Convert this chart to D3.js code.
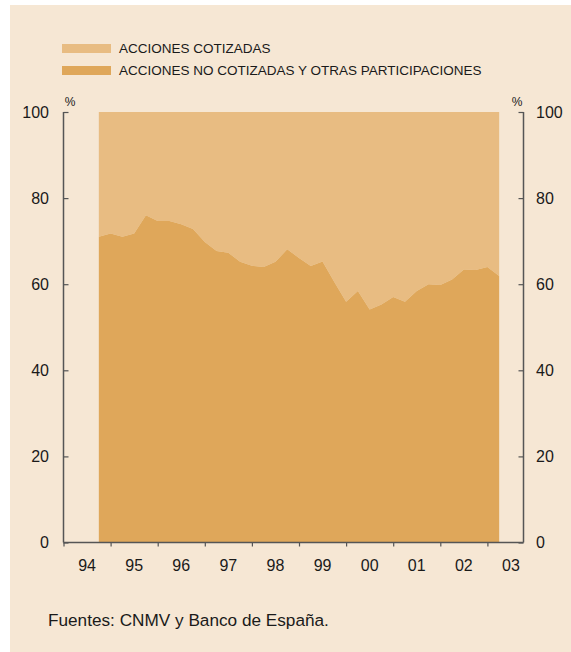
<!DOCTYPE html>
<html>
<head>
<meta charset="utf-8">
<script src="https://cdn.jsdelivr.net/npm/d3@7"></script>
<style>
  html, body { margin: 0; padding: 0; background: #ffffff; }
  svg { display: block; }
  text { font-family: "Liberation Sans", Arial, Helvetica, sans-serif; fill: #1a1a1a; }
</style>
</head>
<body>
<svg id="chart" width="571" height="652"></svg>
<script>
// ---- data ----
const seriesNames = ["ACCIONES COTIZADAS", "ACCIONES NO COTIZADAS Y OTRAS PARTICIPACIONES"];
// quarterly observations, 1994 Q4 .. 2003 Q2 (positioned at quarter boundaries)
const periods = [
  1994.75,
  1995.00, 1995.25, 1995.50, 1995.75,
  1996.00, 1996.25, 1996.50, 1996.75,
  1997.00, 1997.25, 1997.50, 1997.75,
  1998.00, 1998.25, 1998.50, 1998.75,
  1999.00, 1999.25, 1999.50, 1999.75,
  2000.00, 2000.25, 2000.50, 2000.75,
  2001.00, 2001.25, 2001.50, 2001.75,
  2002.00, 2002.25, 2002.50, 2002.75,
  2003.00, 2003.25
];
// share of unlisted shares and other equity (%)
const noCotizadas = [
  71.0,
  71.8, 71.0, 71.8, 76.0,
  74.7, 74.7, 73.9, 72.8,
  69.8, 67.7, 67.3, 65.2,
  64.3, 64.0, 65.2, 68.1,
  66.1, 64.2, 65.3, 60.5,
  55.9, 58.4, 54.1, 55.3,
  57.0, 55.9, 58.4, 60.0,
  59.8, 61.1, 63.4, 63.3,
  64.0, 61.9
];
// listed shares fill the remainder up to 100 %
const totalPct = [
  100, 100, 100, 100, 100, 100, 100, 100, 100, 100,
  100, 100, 100, 100, 100, 100, 100, 100, 100, 100,
  100, 100, 100, 100, 100, 100, 100, 100, 100, 100,
  100, 100, 100, 100, 100
];
const yearTicks = [1994, 1995, 1996, 1997, 1998, 1999, 2000, 2001, 2002, 2003];
const yearLabels = ["94", "95", "96", "97", "98", "99", "00", "01", "02", "03"];
const yTicks = [0, 20, 40, 60, 80, 100];
const sourceNote = "Fuentes: CNMV y Banco de España.";

// ---- style ----
const colBg = "#F6E7D4";
const colLight = "#E8BC82";
const colDark = "#DFA75A";
const colAxis = "#555555";

const svg = d3.select("#chart");

svg.append("rect").attr("x", 10).attr("y", 5).attr("width", 561).attr("height", 647).attr("fill", colBg);

const x0 = 63.5, x1 = 523.5;
const yTop = 112, yBot = 542.5;
const x = d3.scaleLinear().domain([1994, 2004]).range([x0, x0 + 471]);
const y = d3.scaleLinear().domain([0, 100]).range([yBot, yTop]);

const data = periods.map((p, i) => ({ p, low: noCotizadas[i], tot: totalPct[i] }));

// areas
svg.append("path").datum(data)
  .attr("fill", colLight)
  .attr("d", d3.area().x(d => x(d.p)).y0(d => y(d.low)).y1(d => y(d.tot)));
svg.append("path").datum(data)
  .attr("fill", colDark)
  .attr("d", d3.area().x(d => x(d.p)).y0(y(0)).y1(d => y(d.low)));

// left axis
const gL = svg.append("g").attr("transform", `translate(${x0},0)`)
  .call(d3.axisRight(y).tickValues(yTicks).tickSize(5).tickFormat(""));
gL.select(".domain").remove();
gL.selectAll("line").attr("stroke", colAxis).attr("stroke-width", 1.2);
svg.append("line").attr("x1", x0).attr("x2", x0).attr("y1", yTop).attr("y2", yBot)
  .attr("stroke", colAxis).attr("stroke-width", 1.5);
svg.append("g").selectAll("text").data(yTicks).join("text")
  .attr("x", 49).attr("y", d => y(d)).attr("dy", "0.36em")
  .attr("text-anchor", "end").attr("font-size", 16).text(d => d);

// right axis
const gR = svg.append("g").attr("transform", `translate(${x1},0)`)
  .call(d3.axisLeft(y).tickValues(yTicks).tickSize(5).tickFormat(""));
gR.select(".domain").remove();
gR.selectAll("line").attr("stroke", colAxis).attr("stroke-width", 1.2);
svg.append("line").attr("x1", x1).attr("x2", x1).attr("y1", yTop).attr("y2", yBot)
  .attr("stroke", colAxis).attr("stroke-width", 1.5);
svg.append("g").selectAll("text").data(yTicks).join("text")
  .attr("x", 536).attr("y", d => y(d)).attr("dy", "0.36em")
  .attr("text-anchor", "start").attr("font-size", 16).text(d => d);

// % labels
svg.append("text").attr("x", 70).attr("y", 106).attr("text-anchor", "middle").attr("font-size", 12).text("%");
svg.append("text").attr("x", 517).attr("y", 106).attr("text-anchor", "middle").attr("font-size", 12).text("%");

// bottom axis
const gB = svg.append("g").attr("transform", `translate(0,${yBot})`)
  .call(d3.axisBottom(x).tickValues(yearTicks).tickSize(4).tickFormat(""));
gB.select(".domain").remove();
gB.selectAll("line").attr("stroke", colAxis).attr("stroke-width", 1.2);
svg.append("line").attr("x1", x0).attr("x2", x1).attr("y1", yBot).attr("y2", yBot)
  .attr("stroke", colAxis).attr("stroke-width", 1.5);
svg.append("g").selectAll("text").data(yearTicks).join("text")
  .attr("x", (d) => x(d + 0.5)).attr("y", 571)
  .attr("text-anchor", "middle").attr("font-size", 16)
  .text((d, i) => yearLabels[i]);

// legend
const legCols = [colLight, colDark];
const leg = svg.append("g");
seriesNames.forEach((n, i) => {
  leg.append("rect").attr("x", 62).attr("y", 44 + i * 22).attr("width", 49).attr("height", 9).attr("fill", legCols[i]);
  leg.append("text").attr("x", 119).attr("y", 53.3 + i * 21.5).attr("font-size", 13.5).text(n);
});

// source
svg.append("text").attr("x", 48).attr("y", 626).attr("font-size", 17.2).text(sourceNote);
</script>
</body>
</html>
